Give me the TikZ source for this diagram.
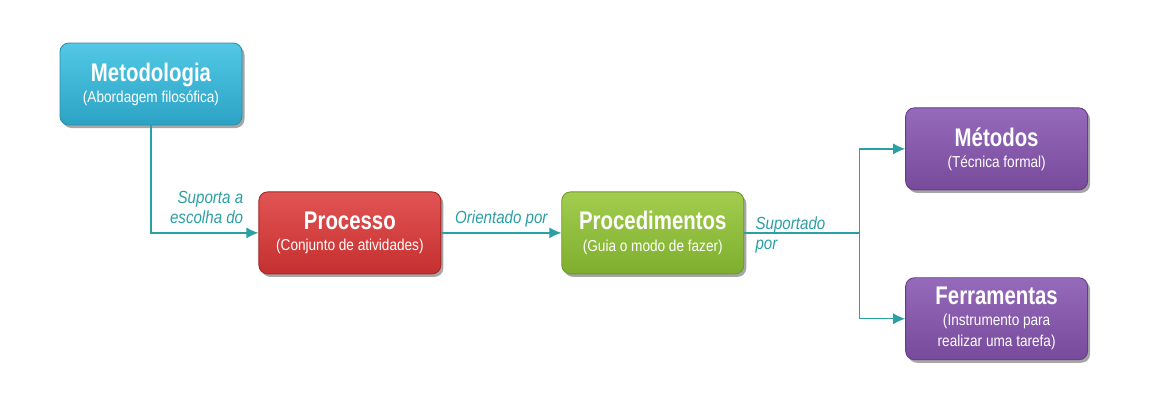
\documentclass[tikz,border=0pt]{standalone}
\usepackage{fontspec}
\setmainfont{Liberation Sans}[FakeStretch=0.86]
\newfontfamily\titlefam{Liberation Sans}[FakeStretch=0.8]
\usetikzlibrary{positioning,arrows.meta,shadows}
\definecolor{metoTop}{HTML}{52C8E6}
\definecolor{metoBot}{HTML}{2CA3C4}
\definecolor{metoLine}{HTML}{2A8FAA}
\definecolor{procTop}{HTML}{E25454}
\definecolor{procBot}{HTML}{C52F2F}
\definecolor{procLine}{HTML}{A32626}
\definecolor{guiaTop}{HTML}{A3CD4E}
\definecolor{guiaBot}{HTML}{7EAE2E}
\definecolor{guiaLine}{HTML}{6C9826}
\definecolor{ferrTop}{HTML}{966ABA}
\definecolor{ferrBot}{HTML}{774A9C}
\definecolor{ferrLine}{HTML}{643C88}
\definecolor{linkTeal}{HTML}{2AA0A4}
\newcommand{\titlefont}{\titlefam\fontsize{14.5}{16}\selectfont\bfseries}
\newcommand{\subfont}{\fontsize{9}{11}\selectfont}
\begin{document}
\begin{tikzpicture}[
    box/.style={rectangle, rounded corners=5pt, minimum width=3.64cm, minimum height=1.64cm,
                align=center, text=white, line width=0.5pt,
                drop shadow={shadow xshift=0.05cm, shadow yshift=-0.06cm, opacity=0.35, fill=black}},
    link/.style={draw=linkTeal, line width=0.7pt},
    arrow/.style={link, -{Latex[length=2.4mm, width=2.2mm]}},
    lbl/.style={text=linkTeal, font=\fontsize{10}{11.5}\selectfont\itshape, inner sep=1pt}]
    \useasboundingbox (0,0) rectangle (23,-8.04);
    % Nodes
    \node (metodologia) [box, draw=metoLine, top color=metoTop, bottom color=metoBot] at (3.02,-1.68)
        {\titlefont Metodologia\\[0pt]\subfont (Abordagem filosófica)};
    \node (processo) [box, draw=procLine, top color=procTop, bottom color=procBot, below right=1.32cm and 0.32cm of metodologia]
        {\titlefont Processo\\[0pt]\subfont (Conjunto de atividades)};
    \node (procedimentos) [box, draw=guiaLine, top color=guiaTop, bottom color=guiaBot, right=2.4cm of processo]
        {\titlefont Procedimentos\\[0pt]\subfont (Guia o modo de fazer)};
    \node (metodos) [box, draw=ferrLine, top color=ferrTop, bottom color=ferrBot, right=3.22cm of procedimentos, yshift=1.68cm]
        {\titlefont Métodos\\[0pt]\subfont (Técnica formal)};
    \node (ferramentas) [box, draw=ferrLine, top color=ferrTop, bottom color=ferrBot, below=1.74cm of metodos]
        {\titlefont Ferramentas\\[0pt]\subfont (Instrumento para\\\subfont realizar uma tarefa)};
    \coordinate [right=2.3cm of procedimentos.east] (split);

    % Connectors
    \draw [arrow] (metodologia.south) |- (processo.west)
        node[lbl, pos=0.94, anchor=south east, align=right, yshift=4pt] {Suporta a\\escolha do};
    \draw [arrow] (processo) -- node[lbl, above, yshift=2pt] {Orientado por} (procedimentos);
    \draw [link] (procedimentos.east) -- (split)
        node[lbl, pos=0, anchor=west, align=left, xshift=0.18cm, yshift=-1pt] {Suportado\\por};
    \draw [arrow] (split) |- (metodos);
    \draw [arrow] (split) |- (ferramentas);
\end{tikzpicture}
\end{document}
